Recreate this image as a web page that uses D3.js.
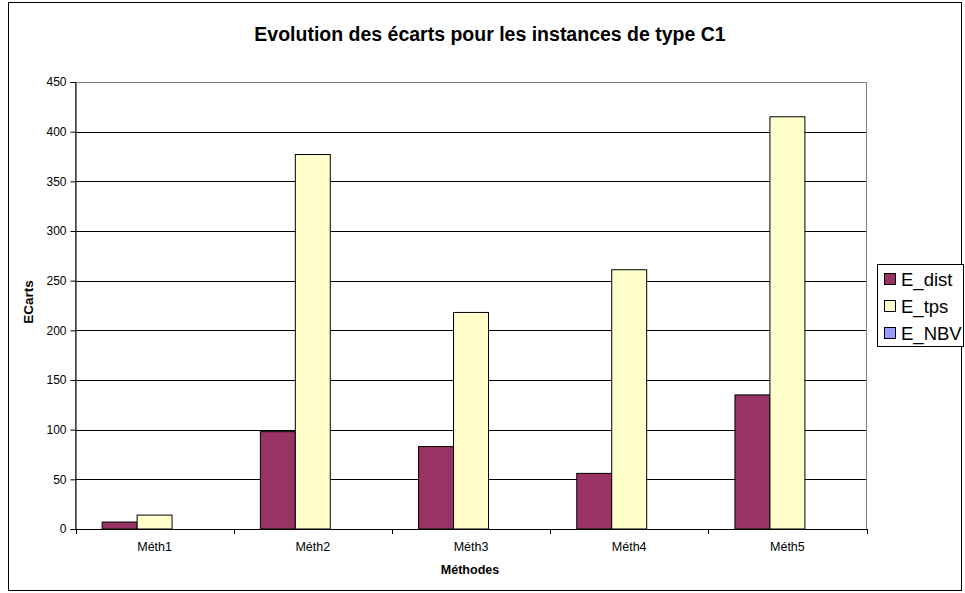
<!DOCTYPE html>
<html>
<head>
<meta charset="utf-8">
<script src="https://cdn.jsdelivr.net/npm/d3@7"></script>
<style>
  html, body { margin: 0; padding: 0; background: #fff; }
  svg { display: block; font-family: "Liberation Sans", Arial, sans-serif; }
</style>
</head>
<body>
<svg id="chart" width="965" height="593"></svg>
<script>
const categories = ["Méth1", "Méth2", "Méth3", "Méth4", "Méth5"];
const seriesNames = ["E_dist", "E_tps", "E_NBV"];
const E_dist = [7, 98, 83, 56, 135];
const E_tps = [14, 377, 218, 261, 415];
const E_NBV = [0, 0, 0, 0, 0];
const yTicks = [0, 50, 100, 150, 200, 250, 300, 350, 400, 450];
const colors = ["#993366", "#FFFFCC", "#9999FF"];
const titleText = "Evolution des écarts pour les instances de type C1";
const yTitle = "ECarts";
const xTitle = "Méthodes";

const seriesValues = [E_dist, E_tps, E_NBV];
const svg = d3.select("#chart");

// outer frame
svg.append("rect").attr("x", 8.5).attr("y", 2.5).attr("width", 953).attr("height", 588)
  .attr("fill", "#fff").attr("stroke", "#000").attr("stroke-width", 1);

const pLeft = 75.5, pRight = 866.5, pTop = 82, pBottom = 529;
const y = d3.scaleLinear().domain([0, 450]).range([pBottom, pTop]);
const x = d3.scaleBand().domain(categories).range([pLeft, pRight]).padding(0);
const bw = x.bandwidth();
const gw = bw * 0.663;
const x1 = d3.scaleBand().domain(seriesNames).range([(bw - gw) / 2, (bw + gw) / 2]).padding(0);

// gridlines
svg.append("g").selectAll("line").data(yTicks.filter(d => d > 0 && d < 450)).join("line")
  .attr("x1", pLeft).attr("x2", pRight)
  .attr("y1", d => Math.round(y(d)) + 0.5).attr("y2", d => Math.round(y(d)) + 0.5)
  .attr("stroke", "#000").attr("stroke-width", 1);

// plot area border
svg.append("rect").attr("x", pLeft).attr("y", Math.round(y(450)) + 0.5)
  .attr("width", pRight - pLeft).attr("height", pBottom - pTop)
  .attr("fill", "none").attr("stroke", "#808080").attr("stroke-width", 1);

// bars
const groups = svg.append("g").selectAll("g").data(categories).join("g")
  .attr("transform", d => `translate(${x(d)},0)`);
groups.selectAll("rect").data((c, i) => seriesNames.map((s, j) => ({ s, j, v: seriesValues[j][i] })))
  .join("rect")
  .attr("x", d => x1(d.s))
  .attr("width", x1.bandwidth())
  .attr("y", d => y(d.v))
  .attr("height", d => y(0) - y(d.v))
  .attr("fill", d => colors[d.j])
  .attr("stroke", "#000").attr("stroke-width", 1)
  .attr("visibility", d => d.v > 0 ? "visible" : "hidden");

// y axis
const yAxis = d3.axisLeft(y).tickValues(yTicks).tickSize(5).tickPadding(4).tickFormat(d3.format("d"));
const gy = svg.append("g").attr("transform", `translate(${pLeft},0)`).call(yAxis);
gy.select(".domain").attr("stroke", "#000");
gy.selectAll(".tick line").attr("stroke", "#000");
gy.selectAll("text").attr("font-size", 12).attr("fill", "#000")
  .attr("font-family", "'Liberation Sans', Arial, sans-serif");

// x axis
const gx = svg.append("g").attr("transform", `translate(0,${pBottom})`)
  .call(d3.axisBottom(x).tickSize(0).tickPadding(13));
gx.select(".domain").attr("stroke", "#000");
gx.selectAll("text").attr("font-size", 12.5).attr("fill", "#000")
  .attr("font-family", "'Liberation Sans', Arial, sans-serif");
// category boundary ticks
svg.append("g").selectAll("line").data(categories.map(c => x(c)).concat([pRight])).join("line")
  .attr("x1", d => Math.round(d) + 0.5).attr("x2", d => Math.round(d) + 0.5)
  .attr("y1", pBottom).attr("y2", pBottom + 5)
  .attr("stroke", "#000");

// title
svg.append("text").attr("x", 490).attr("y", 41).attr("text-anchor", "middle")
  .attr("font-size", 19.5).attr("font-weight", "bold").text(titleText);

// axis titles
svg.append("text").attr("transform", "translate(33,302) rotate(-90)").attr("text-anchor", "middle")
  .attr("font-size", 13.5).attr("font-weight", "bold").text(yTitle);
svg.append("text").attr("x", 470).attr("y", 574).attr("text-anchor", "middle")
  .attr("font-size", 12.5).attr("font-weight", "bold").text(xTitle);

// legend
const lg = svg.append("g");
lg.append("rect").attr("x", 877.5).attr("y", 264.5).attr("width", 86).attr("height", 82)
  .attr("fill", "#fff").attr("stroke", "#000");
const items = lg.selectAll("g").data(seriesNames).join("g")
  .attr("transform", (d, i) => `translate(884,${279 + i * 27})`);
items.append("rect").attr("x", 0.5).attr("y", -5.5).attr("width", 11).attr("height", 11)
  .attr("fill", (d, i) => colors[i]).attr("stroke", "#000");
items.append("text").attr("x", 17).attr("y", 7).attr("font-size", 18.5).text(d => d);
</script>
</body>
</html>
